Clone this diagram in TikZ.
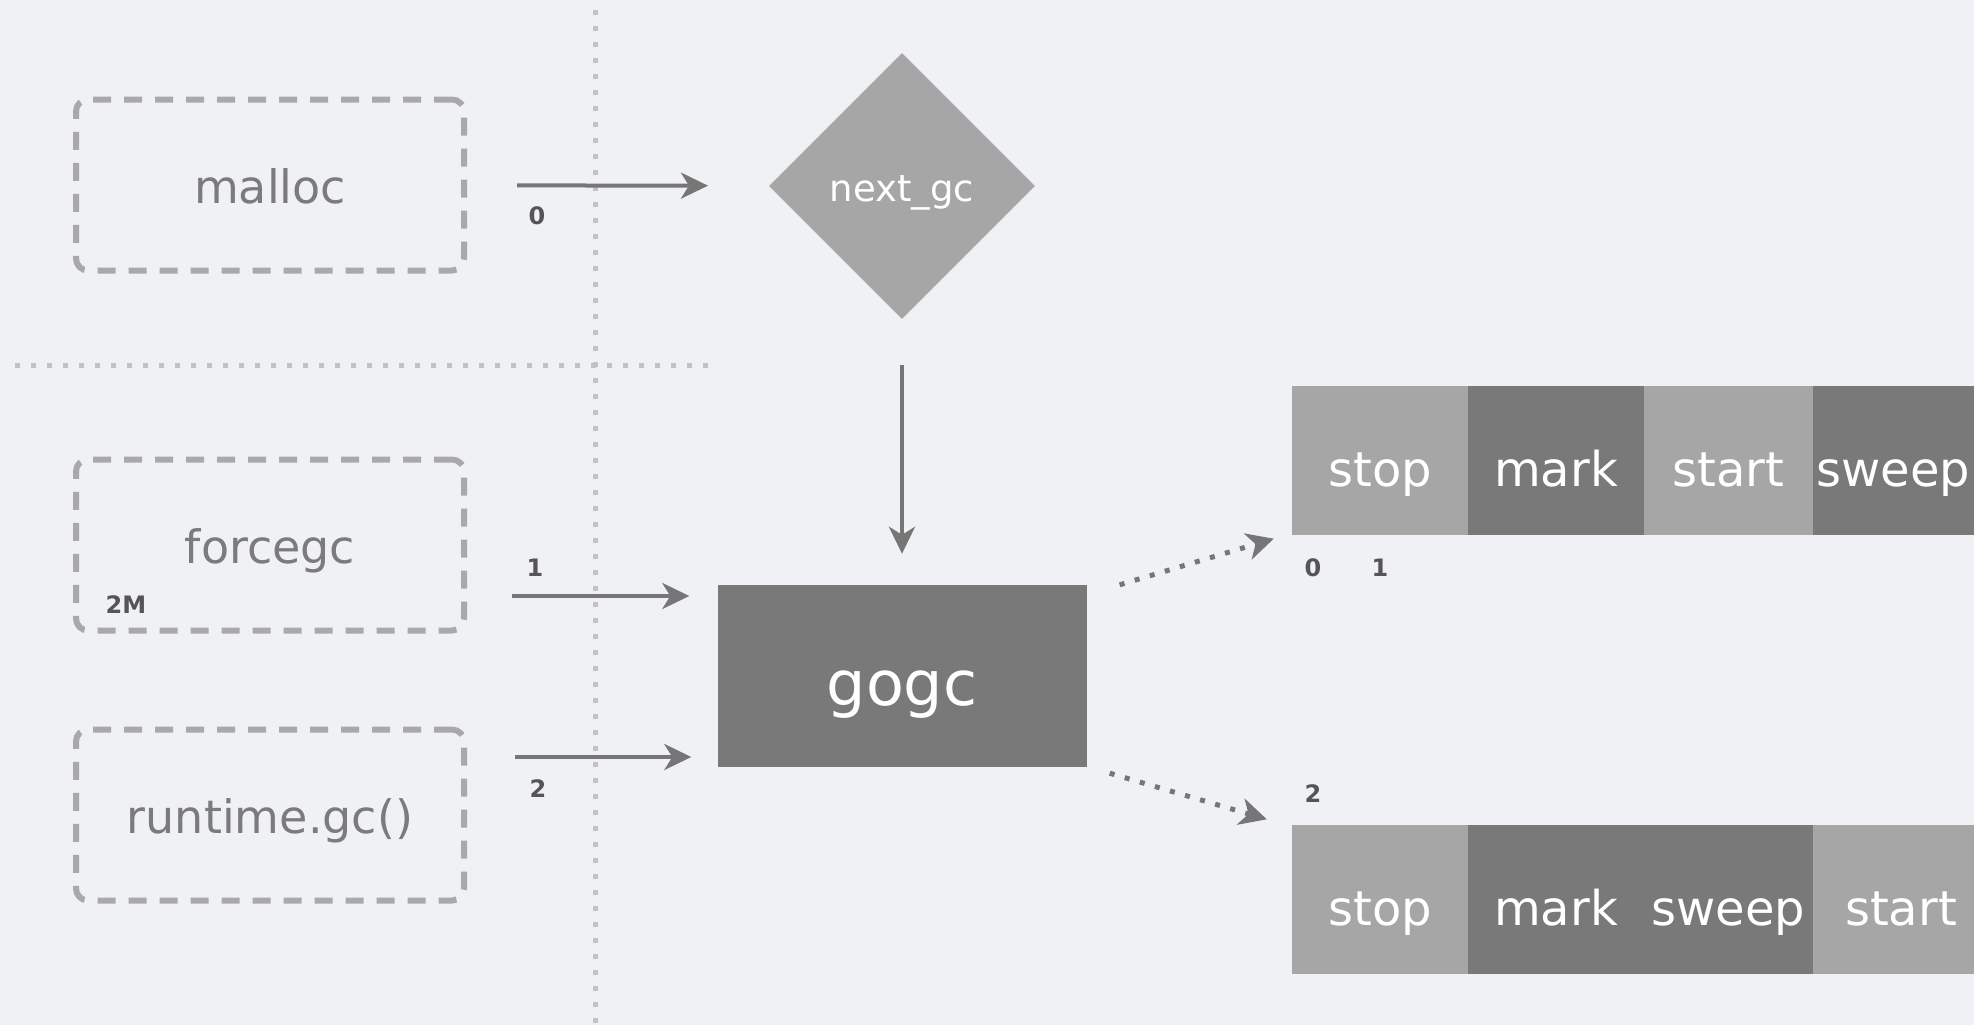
\documentclass[tikz,border=0pt]{standalone}
\usepackage{fontspec}
\setmainfont{DejaVu Sans}
\usetikzlibrary{arrows.meta,shapes.geometric}
\definecolor{bgcol}{HTML}{EFF1F4}
\definecolor{lightcol}{HTML}{A6A6A6}
\definecolor{darkcol}{HTML}{797979}
\definecolor{arrowcol}{HTML}{767676}
\definecolor{dashcol}{HTML}{A9A9A9}
\definecolor{dotcol}{HTML}{C2C2C2}
\definecolor{textcol}{HTML}{7B7B7B}
\definecolor{numcol}{HTML}{555555}

\begin{document}
\begin{tikzpicture}[x=1pt,y=-1pt,
    source/.style={draw=dashcol,line width=6pt,dash pattern=on 18pt off 13pt,
      rounded corners=12pt,minimum width=388pt,minimum height=171pt,
      text=textcol,text height=40pt,text depth=4pt,font=\fontsize{46}{55}\selectfont},
    lightseg/.style={fill=lightcol,text=white,minimum height=149pt,inner sep=0pt,
      text height=60pt,text depth=8pt,font=\fontsize{48}{58}\selectfont},
    darkseg/.style={lightseg,fill=darkcol},
    num/.style={text=numcol,inner sep=0pt,font=\fontsize{24}{28}\selectfont\bfseries},
    guide/.style={draw=dotcol,line width=5pt,dash pattern=on 5pt off 11pt},
    solid/.style={draw=arrowcol,line width=4pt,-{Stealth[length=27pt,width=26pt,inset=8pt]}},
    dots/.style={draw=arrowcol,line width=5pt,dash pattern=on 5pt off 10.7pt,
      -{Stealth[length=27pt,width=27pt,inset=8pt]}}]
              \useasboundingbox (0,0) rectangle (1974,1025);
              \fill[bgcol] (0,0) rectangle (1974,1025);
              \clip (0,0) rectangle (1974,1025);

              % dotted guides
              \coordinate (vtop) at (595,10);
              \coordinate (vbot) at (595,1025);
              \coordinate (hleft) at (15,365);
              \coordinate (hright) at (711,365);
              \draw[guide] (vtop) -- (vbot);
              \draw[guide] (hleft) -- (hright);

              \node[source] (malloc)  at (270,185) {malloc};
              \node[source] (forcegc) at (270,545) {forcegc};
              \node[source] (rtgc)    at (270,815) {runtime.gc()};

              \node[diamond,fill=lightcol,minimum width=266pt,minimum height=266pt,inner sep=0pt,
                text=white,text height=40pt,text depth=10pt,
                font=\fontsize{37}{44}\selectfont] (nextgc) at (902,186) {next\_gc};
              \node[fill=darkcol,minimum width=369pt,minimum height=182pt,text=white,
                text height=72pt,text depth=14pt,inner sep=0pt,
                font=\fontsize{62}{74}\selectfont] (gogc) at (902,676) {gogc};

              \node[lightseg,minimum width=176pt] (stopA)  at (1380,460) {stop};
              \node[darkseg,minimum width=176pt]  (markA)  at (1556,460) {mark};
              \node[lightseg,minimum width=169pt] (startA) at (1728.5,460) {start};
              \node[darkseg,minimum width=161pt]  (sweepA) at (1893.5,460) {sweep};

              \node[lightseg,minimum width=176pt] (stopB)  at (1380,899) {stop};
              \node[darkseg,minimum width=176pt]  (markB)  at (1556,899) {mark};
              \node[darkseg,minimum width=169pt]  (sweepB) at (1728.5,899) {sweep};
              \node[lightseg,minimum width=176pt] (startB) at (1901,899) {start};

              \node[num] (n0)  at (537,216)  {0};
              \node[num] (n1)  at (535,568)  {1};
              \node[num] (n2)  at (538,789)  {2};
              \node[num] (n2m) at (126,605)  {2M};
              \node[num] (nA0) at (1313,568) {0};
              \node[num] (nA1) at (1380,568) {1};
              \node[num] (nB2) at (1313,794) {2};

              \coordinate (in1) at (0,596);
              \coordinate (in2) at (0,757);

              \path (malloc) edge[solid,shorten <=50pt,shorten >=61pt] (nextgc);
              \path (nextgc) edge[solid,shorten <=46pt,shorten >=31pt] (gogc);
              \path (forcegc.east |- in1) edge[solid,shorten <=45pt,shorten >=28pt] (gogc.west |- in1);
              \path (rtgc.east |- in2) edge[solid,shorten <=48pt,shorten >=26pt] (gogc.west |- in2);

              \path ([xshift=33pt]gogc.north east) edge[dots] ([xshift=-18pt,yshift=-4pt]stopA.south west);
              \path ([xshift=23pt,yshift=-6pt]gogc.south east) edge[dots] ([xshift=-25pt,yshift=5pt]stopB.north west);
          \end{tikzpicture}
\end{document}
